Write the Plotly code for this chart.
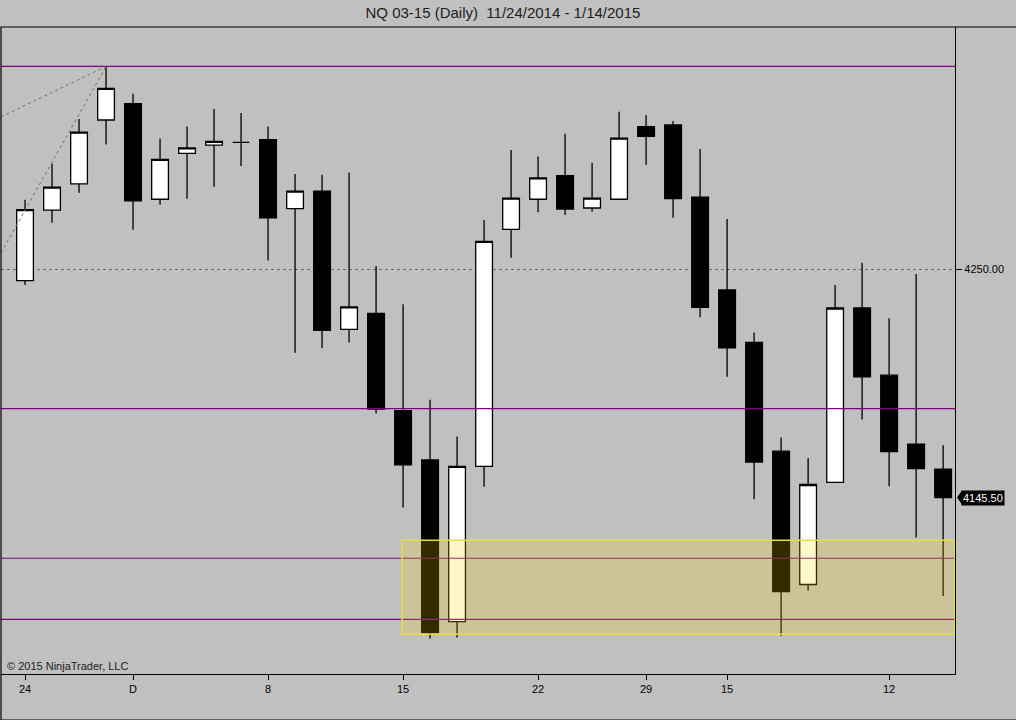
import plotly.graph_objects as go

# daily bars, NQ 03-15
dates = ['2014-11-24', '2014-11-25', '2014-11-26', '2014-11-28',
         '2014-12-01', '2014-12-02', '2014-12-03', '2014-12-04', '2014-12-05',
         '2014-12-08', '2014-12-09', '2014-12-10', '2014-12-11', '2014-12-12',
         '2014-12-15', '2014-12-16', '2014-12-17', '2014-12-18', '2014-12-19',
         '2014-12-22', '2014-12-23', '2014-12-24', '2014-12-26',
         '2014-12-29', '2014-12-30', '2014-12-31', '2015-01-02',
         '2015-01-05', '2015-01-06', '2015-01-07', '2015-01-08', '2015-01-09',
         '2015-01-12', '2015-01-13', '2015-01-14']
opens = [4244.75, 4277.0, 4289.0, 4318.25, 4325.75, 4282.0, 4303.0, 4306.75, 4308.0,
         4309.25, 4277.75, 4285.75, 4222.5, 4229.75, 4185.25, 4162.75, 4088.75, 4159.75,
         4268.25, 4282.0, 4292.75, 4278.0, 4282.0, 4315.25, 4316.0, 4283.0, 4240.5,
         4216.5, 4166.75, 4105.75, 4152.5, 4232.25, 4201.5, 4170.0, 4158.5]
highs = [4281.75, 4298.25, 4318.75, 4342.75, 4330.25, 4309.75, 4315.25, 4323.25, 4321.5,
         4315.25, 4293.5, 4293.25, 4294.25, 4251.5, 4234.0, 4190.25, 4173.5, 4272.5,
         4304.5, 4301.5, 4312.0, 4298.75, 4322.0, 4320.5, 4317.75, 4305.0, 4273.0,
         4221.0, 4173.0, 4163.5, 4242.75, 4253.0, 4227.5, 4247.75, 4169.5]
lows = [4242.75, 4271.25, 4285.0, 4307.0, 4268.0, 4279.5, 4282.25, 4287.75, 4297.25,
        4254.0, 4211.75, 4214.0, 4216.5, 4184.0, 4141.0, 4081.0, 4081.5, 4150.5,
        4255.25, 4276.0, 4274.75, 4276.25, 4281.75, 4297.75, 4273.5, 4228.0, 4200.75,
        4144.75, 4082.25, 4103.0, 4152.25, 4181.25, 4150.75, 4127.25, 4100.5]
closes = [4277.25, 4287.5, 4312.75, 4332.75, 4281.25, 4300.25, 4305.5, 4308.5, 4308.0,
          4273.5, 4285.75, 4222.0, 4232.75, 4186.0, 4160.5, 4083.75, 4159.75, 4262.75,
          4282.5, 4291.75, 4277.5, 4282.5, 4310.0, 4310.75, 4282.25, 4232.5, 4214.0,
          4161.75, 4102.5, 4151.5, 4232.25, 4200.75, 4166.5, 4158.75, 4145.5]

tick_dates = ['2014-11-24', '2014-12-01', '2014-12-08', '2014-12-15',
              '2014-12-22', '2014-12-29', '2015-01-02', '2015-01-12']
tick_labels = ['24', 'D', '8', '15', '22', '29', '15', '12']

# drawing objects on the chart
hlines = [4342.75, 4186.25, 4117.75, 4089.75]
zone_start = '2014-12-15'
zone_low, zone_high = 4083.0, 4126.0
fan_start = [4319.7, 4257.5]
fan_end_date, fan_end_price = '2014-11-28', 4342.75
last_price = 4145.5

idx = list(range(len(dates)))
pos = {d: i for i, d in enumerate(dates)}

fig = go.Figure()
fig.add_trace(go.Candlestick(
    x=idx, open=opens, high=highs, low=lows, close=closes,
    increasing=dict(line=dict(color='black', width=1.3), fillcolor='white'),
    decreasing=dict(line=dict(color='black', width=1.3), fillcolor='black'),
    whiskerwidth=0, showlegend=False, hoverinfo='skip'))

x0, x1 = -0.89, 34.44
shapes = []
for p in hlines:
    shapes.append(dict(type='line', xref='x', yref='y', x0=x0, x1=x1, y0=p, y1=p,
                       line=dict(color='#800080', width=1.2), layer='above'))
for p in fan_start:
    shapes.append(dict(type='line', xref='x', yref='y', x0=x0, y0=p,
                       x1=pos[fan_end_date], y1=fan_end_price,
                       line=dict(color='#707070', width=1, dash='dot'), layer='above'))
shapes.append(dict(type='rect', xref='x', yref='y', x0=pos[zone_start] - 0.04, x1=x1,
                   y0=zone_low, y1=zone_high, fillcolor='rgba(255,215,0,0.2)',
                   line=dict(color='rgb(232,222,60)', width=1.5), layer='above'))
# frame around the whole chart panel
shapes.append(dict(type='rect', xref='paper', yref='paper', x0=0, x1=1060 / 954, y0=-46 / 647,
                   y1=1, line=dict(color='black', width=1.2), layer='above'))
# price marker arrow
shapes.append(dict(type='path', xref='paper', yref='y', xsizemode='pixel', ysizemode='pixel',
                   xanchor=1, yanchor=last_price, path='M 2 0 L 7 7 L 7 -7 Z',
                   fillcolor='black', line=dict(width=0)))

fig.update_layout(
    width=1016, height=720,
    margin=dict(l=1, r=61, t=27, b=46),
    paper_bgcolor='#C0C0C0', plot_bgcolor='#C0C0C0',
    font=dict(family='Liberation Sans, Arial, sans-serif', size=11, color='black'),
    title=dict(text='NQ 03-15 (Daily)&nbsp; 11/24/2014 - 1/14/2015', x=0.495, xanchor='center',
               y=0.982, yanchor='middle', font=dict(size=15, color='#202020')),
    boxgap=0.38, boxgroupgap=0,
    shapes=shapes,
    xaxis=dict(range=[x0, x1], rangeslider=dict(visible=False),
               tickvals=[pos[d] for d in tick_dates], ticktext=tick_labels,
               ticks='outside', ticklen=5, tickcolor='black', showgrid=False,
               showline=True, linecolor='black', linewidth=1.2, zeroline=False, fixedrange=True),
    yaxis=dict(range=[4064.8, 4360.8], side='right', tickvals=[4250], ticktext=['4250.00'],
               ticks='outside', ticklen=6, tickcolor='black',
               showgrid=True, gridcolor='#707070', griddash='dot', gridwidth=1,
               showline=True, linecolor='black', linewidth=1.2, zeroline=False, fixedrange=True),
    annotations=[
        dict(text='© 2015 NinjaTrader, LLC', xref='paper', yref='paper', x=0.004, y=0.0,
             xanchor='left', yanchor='bottom', showarrow=False, font=dict(size=11, color='#202020')),
        dict(text='4145.50', xref='paper', yref='y', x=1, y=last_price, xshift=6,
             xanchor='left', yanchor='middle', showarrow=False, bgcolor='black',
             borderpad=1, font=dict(size=11, color='white')),
    ],
)

fig.write_html('out.html', config=dict(displayModeBar=False),
               post_script="document.body.style.margin='0';")
